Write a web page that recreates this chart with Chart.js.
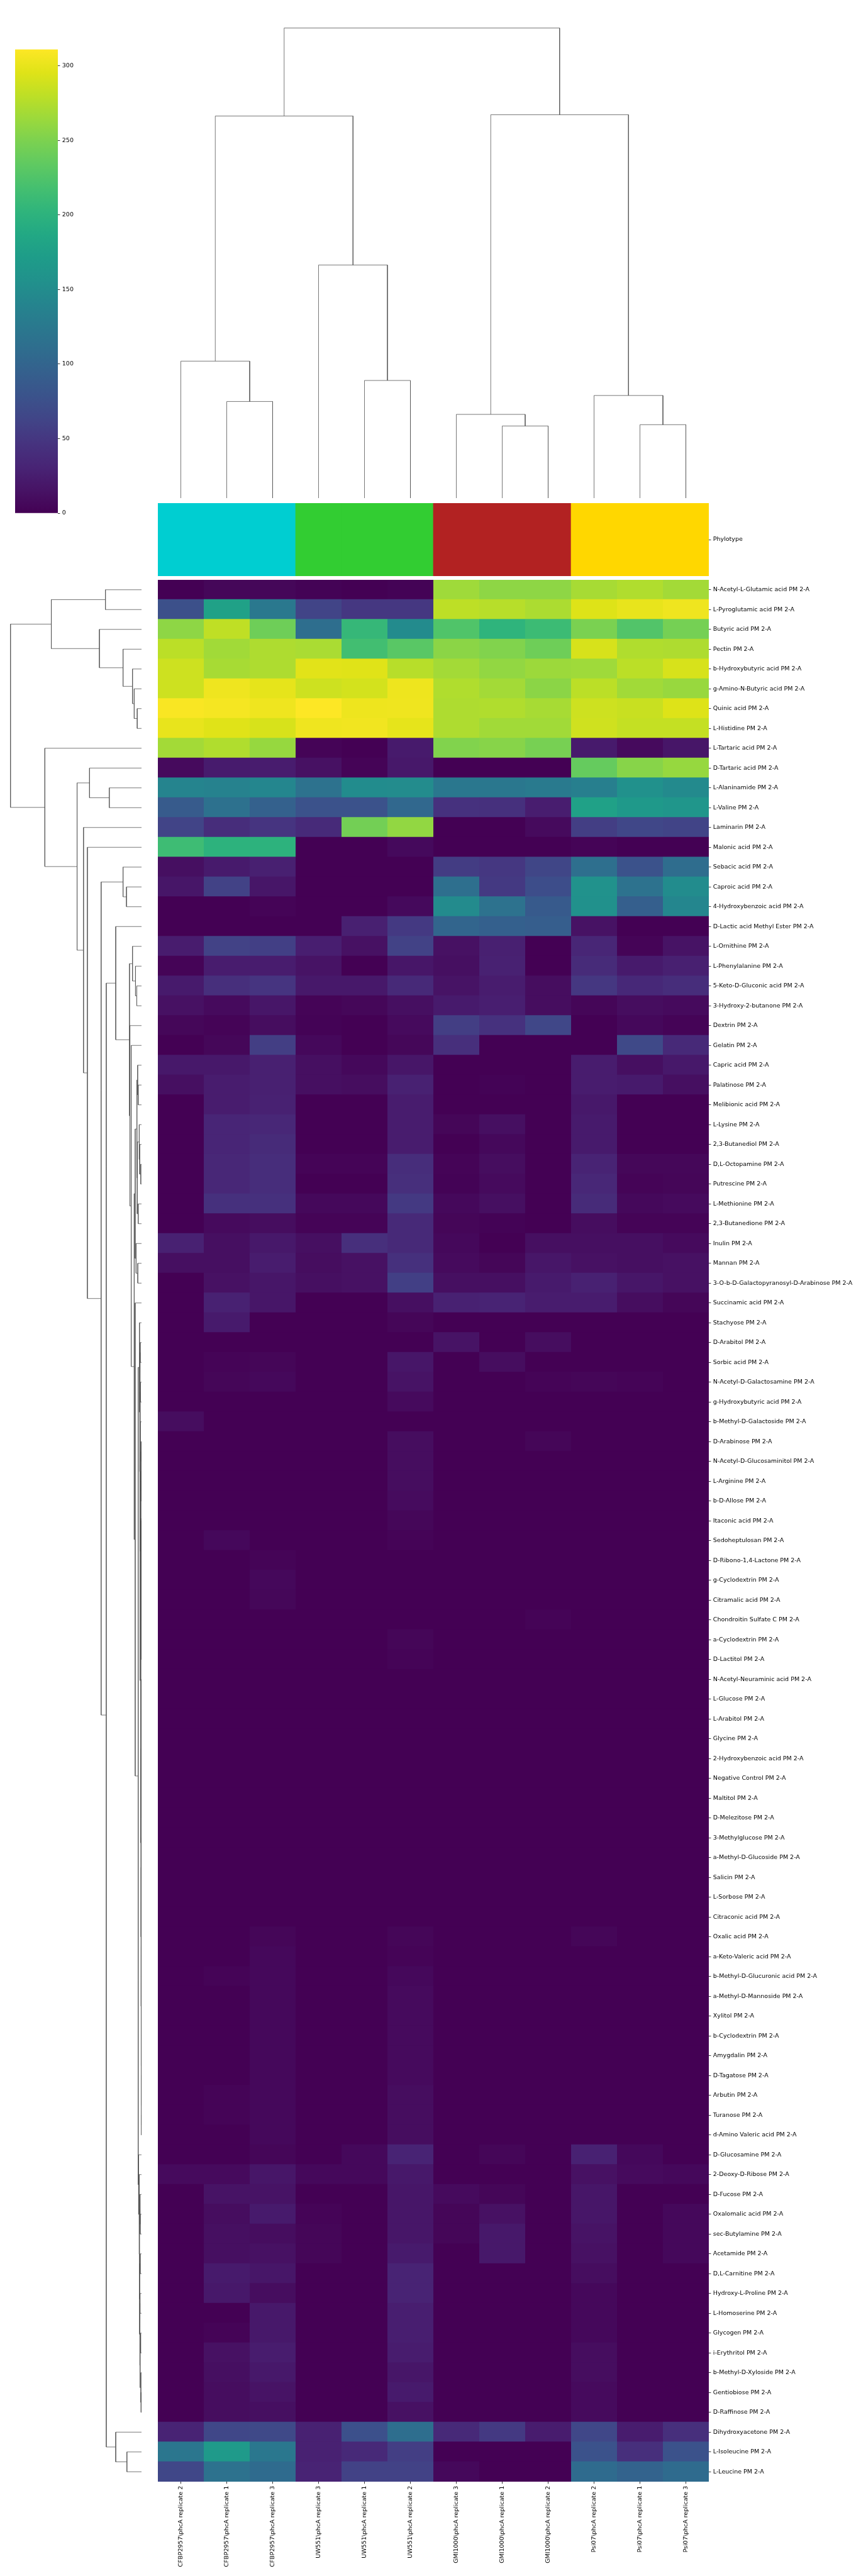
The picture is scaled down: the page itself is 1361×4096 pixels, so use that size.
<!DOCTYPE html>
<html>
<head>
<meta charset="utf-8">
<script src="https://cdn.jsdelivr.net/npm/chart.js@4.4.1/dist/chart.umd.min.js"></script>
<style>
  html, body { margin: 0; padding: 0; background: #fff; }
  #page { position: relative; width: 1361px; height: 4096px; overflow: hidden; }
  canvas { position: absolute; }
</style>
</head>
<body>
<div id="page">
  <canvas id="colorbar" width="118" height="758" style="left:24px;top:68px"></canvas>
  <canvas id="colTree" width="876" height="785" style="left:251px;top:7px"></canvas>
  <canvas id="phylo" width="1110" height="116" style="left:251px;top:800px"></canvas>
  <canvas id="rowTree" width="218" height="3024" style="left:7px;top:922px"></canvas>
  <canvas id="heat" width="1110" height="3174" style="left:251px;top:922px"></canvas>
</div>
<script>
// samples (columns, in dendrogram order)
const sampleNames = [
  "CFBP2957\\phcA replicate 2", "CFBP2957\\phcA replicate 1", "CFBP2957\\phcA replicate 3",
  "UW551\\phcA replicate 3", "UW551\\phcA replicate 1", "UW551\\phcA replicate 2",
  "GMI1000\\phcA replicate 3", "GMI1000\\phcA replicate 1", "GMI1000\\phcA replicate 2",
  "Psi07\\phcA replicate 2", "Psi07\\phcA replicate 1", "Psi07\\phcA replicate 3"
];
const phylotypeColors = ["#00ced1", "#00ced1", "#00ced1", "#32cd32", "#32cd32", "#32cd32",
  "#b22222", "#b22222", "#b22222", "#ffd700", "#ffd700", "#ffd700"];

// substrates (rows, in dendrogram order)
const substrates = [
  "N-Acetyl-L-Glutamic acid", "L-Pyroglutamic acid", "Butyric acid", "Pectin", "b-Hydroxybutyric acid",
  "g-Amino-N-Butyric acid", "Quinic acid", "L-Histidine", "L-Tartaric acid", "D-Tartaric acid",
  "L-Alaninamide", "L-Valine", "Laminarin", "Malonic acid", "Sebacic acid",
  "Caproic acid", "4-Hydroxybenzoic acid", "D-Lactic acid Methyl Ester", "L-Ornithine", "L-Phenylalanine",
  "5-Keto-D-Gluconic acid", "3-Hydroxy-2-butanone", "Dextrin", "Gelatin", "Capric acid",
  "Palatinose", "Melibionic acid", "L-Lysine", "2,3-Butanediol", "D,L-Octopamine",
  "Putrescine", "L-Methionine", "2,3-Butanedione", "Inulin", "Mannan",
  "3-O-b-D-Galactopyranosyl-D-Arabinose", "Succinamic acid", "Stachyose", "D-Arabitol", "Sorbic acid",
  "N-Acetyl-D-Galactosamine", "g-Hydroxybutyric acid", "b-Methyl-D-Galactoside", "D-Arabinose", "N-Acetyl-D-Glucosaminitol",
  "L-Arginine", "b-D-Allose", "Itaconic acid", "Sedoheptulosan", "D-Ribono-1,4-Lactone",
  "g-Cyclodextrin", "Citramalic acid", "Chondroitin Sulfate C", "a-Cyclodextrin", "D-Lactitol",
  "N-Acetyl-Neuraminic acid", "L-Glucose", "L-Arabitol", "Glycine", "2-Hydroxybenzoic acid",
  "Negative Control", "Maltitol", "D-Melezitose", "3-Methylglucose", "a-Methyl-D-Glucoside",
  "Salicin", "L-Sorbose", "Citraconic acid", "Oxalic acid", "a-Keto-Valeric acid",
  "b-Methyl-D-Glucuronic acid", "a-Methyl-D-Mannoside", "Xylitol", "b-Cyclodextrin", "Amygdalin",
  "D-Tagatose", "Arbutin", "Turanose", "d-Amino Valeric acid", "D-Glucosamine",
  "2-Deoxy-D-Ribose", "D-Fucose", "Oxalomalic acid", "sec-Butylamine", "Acetamide",
  "D,L-Carnitine", "Hydroxy-L-Proline", "L-Homoserine", "Glycogen", "i-Erythritol",
  "b-Methyl-D-Xyloside", "Gentiobiose", "D-Raffinose", "Dihydroxyacetone", "L-Isoleucine",
  "L-Leucine"
];
const rowLabels = substrates.map((s) => s + " PM 2-A");

// values per sample, one per substrate (rows 1-10, 11-20, ...)
const cfbp2957_r2 = [
  0, 75, 258, 279, 287, 287, 309, 300, 268, 8,
  140, 88, 62, 213, 12, 18, 0, 0, 24, 3,
  22, 14, 5, 0, 20, 12, 0, 0, 0, 0,
  0, 0, 0, 28, 12, 0, 0, 0, 0, 0,
  0, 0, 10, 0, 0, 0, 0, 0, 0, 0,
  0, 0, 0, 0, 0, 0, 0, 0, 0, 0,
  0, 0, 0, 0, 0, 0, 0, 0, 0, 0,
  0, 0, 0, 0, 0, 0, 0, 0, 0, 0,
  8, 0, 0, 0, 0, 0, 0, 0, 0, 0,
  0, 0, 0, 30, 122, 65];
const cfbp2957_r1 = [
  5, 178, 281, 267, 270, 304, 307, 296, 274, 23,
  137, 115, 40, 200, 22, 60, 0, 0, 60, 24,
  42, 8, 3, 5, 20, 24, 24, 32, 32, 34,
  34, 44, 8, 12, 12, 14, 28, 22, 0, 3,
  4, 0, 0, 0, 0, 0, 0, 0, 6, 0,
  0, 0, 0, 0, 0, 0, 0, 0, 0, 0,
  0, 0, 0, 0, 0, 0, 0, 0, 0, 0,
  3, 0, 0, 0, 0, 0, 3, 3, 0, 0,
  8, 16, 10, 12, 12, 22, 20, 0, 3, 14,
  12, 10, 10, 65, 168, 116];
const cfbp2957_r3 = [
  5, 125, 242, 273, 273, 299, 304, 292, 262, 24,
  142, 96, 48, 200, 27, 18, 3, 0, 58, 24,
  48, 18, 10, 57, 27, 27, 28, 34, 38, 40,
  40, 44, 10, 20, 24, 18, 18, 0, 0, 4,
  6, 0, 0, 0, 0, 0, 0, 0, 0, 3,
  6, 5, 0, 0, 0, 0, 0, 0, 0, 0,
  0, 0, 0, 0, 0, 0, 0, 0, 4, 6,
  6, 6, 6, 6, 6, 6, 6, 6, 6, 4,
  18, 16, 22, 10, 14, 18, 10, 20, 20, 24,
  20, 16, 12, 68, 123, 108];
const uw551_r3 = [
  2, 62, 112, 271, 297, 287, 311, 304, 3, 14,
  116, 78, 37, 0, 0, 0, 0, 0, 26, 16,
  20, 3, 2, 6, 12, 12, 0, 0, 0, 3,
  0, 6, 3, 12, 10, 12, 0, 0, 0, 0,
  0, 0, 0, 0, 0, 0, 0, 0, 0, 0,
  0, 0, 0, 0, 0, 0, 0, 0, 0, 0,
  0, 0, 0, 0, 0, 0, 0, 0, 0, 0,
  0, 0, 0, 0, 0, 0, 0, 0, 0, 0,
  6, 0, 3, 4, 4, 0, 0, 0, 0, 0,
  0, 0, 0, 28, 28, 30];
const uw551_r1 = [
  0, 50, 207, 216, 296, 290, 303, 305, 0, 3,
  150, 78, 245, 0, 0, 0, 0, 27, 14, 0,
  20, 5, 0, 0, 6, 10, 0, 0, 0, 3,
  0, 6, 3, 42, 14, 14, 0, 0, 0, 0,
  0, 0, 0, 0, 0, 0, 0, 0, 0, 0,
  0, 0, 0, 0, 0, 0, 0, 0, 0, 0,
  0, 0, 0, 0, 0, 0, 0, 0, 0, 0,
  0, 0, 0, 0, 0, 0, 0, 0, 0, 6,
  6, 0, 0, 0, 0, 0, 0, 0, 0, 0,
  0, 0, 0, 76, 36, 60];
const uw551_r2 = [
  2, 50, 148, 230, 277, 303, 304, 299, 22, 20,
  149, 104, 260, 7, 0, 0, 7, 52, 60, 18,
  36, 12, 8, 5, 18, 28, 24, 24, 24, 40,
  42, 52, 36, 36, 44, 58, 12, 4, 0, 18,
  16, 8, 0, 10, 10, 10, 9, 5, 3, 0,
  0, 0, 0, 4, 3, 0, 0, 0, 0, 0,
  0, 0, 0, 0, 0, 0, 0, 0, 4, 3,
  6, 8, 8, 8, 8, 8, 10, 10, 10, 30,
  20, 18, 18, 18, 22, 30, 30, 26, 26, 24,
  18, 22, 14, 112, 57, 60];
const gmi1000_r3 = [
  266, 280, 225, 257, 268, 274, 273, 273, 252, 0,
  123, 45, 0, 0, 55, 113, 148, 100, 14, 12,
  16, 22, 57, 42, 0, 0, 0, 4, 0, 3,
  2, 6, 4, 6, 8, 12, 28, 0, 16, 0,
  0, 0, 0, 0, 0, 0, 0, 0, 0, 0,
  0, 0, 0, 0, 0, 0, 0, 0, 0, 0,
  0, 0, 0, 0, 0, 0, 0, 0, 0, 0,
  0, 0, 0, 0, 0, 0, 0, 0, 0, 0,
  0, 8, 4, 4, 0, 0, 0, 0, 0, 0,
  0, 0, 0, 36, 0, 6];
const gmi1000_r1 = [
  258, 277, 202, 252, 260, 268, 274, 267, 255, 0,
  123, 44, 0, 0, 50, 52, 116, 95, 27, 28,
  24, 26, 45, 0, 0, 2, 0, 12, 6, 10,
  8, 12, 2, 0, 4, 12, 30, 0, 0, 10,
  0, 0, 0, 0, 0, 0, 0, 0, 0, 0,
  0, 0, 0, 0, 0, 0, 0, 0, 0, 0,
  0, 0, 0, 0, 0, 0, 0, 0, 0, 0,
  0, 0, 0, 0, 0, 0, 0, 0, 0, 4,
  0, 4, 14, 20, 20, 0, 0, 0, 0, 0,
  0, 0, 0, 52, 0, 0];
const gmi1000_r2 = [
  258, 272, 212, 242, 265, 257, 270, 267, 247, 0,
  127, 25, 8, 0, 64, 72, 87, 92, 0, 0,
  10, 10, 65, 0, 0, 0, 0, 0, 0, 0,
  0, 0, 0, 12, 18, 22, 24, 0, 10, 0,
  3, 0, 0, 4, 0, 0, 0, 0, 0, 0,
  0, 0, 3, 0, 0, 0, 0, 0, 0, 0,
  0, 0, 0, 0, 0, 0, 0, 0, 0, 0,
  0, 0, 0, 0, 0, 0, 0, 0, 0, 0,
  0, 0, 0, 0, 0, 0, 0, 0, 0, 0,
  0, 0, 0, 24, 0, 0];
const psi07_r2 = [
  270, 295, 249, 292, 266, 279, 287, 288, 22, 237,
  133, 178, 57, 3, 113, 157, 155, 15, 33, 38,
  50, 4, 0, 0, 24, 24, 20, 22, 22, 30,
  34, 38, 10, 12, 14, 28, 24, 0, 0, 0,
  4, 0, 0, 0, 0, 0, 0, 0, 0, 0,
  0, 0, 0, 0, 0, 0, 0, 0, 0, 0,
  0, 0, 0, 0, 0, 0, 0, 0, 4, 0,
  0, 0, 0, 0, 0, 0, 0, 0, 0, 28,
  14, 18, 18, 16, 14, 10, 6, 6, 6, 10,
  10, 8, 8, 65, 78, 108];
const psi07_r1 = [
  274, 300, 226, 274, 279, 267, 285, 283, 8, 255,
  155, 167, 65, 0, 78, 116, 93, 0, 3, 22,
  35, 10, 6, 68, 12, 22, 0, 0, 0, 5,
  3, 6, 3, 12, 12, 18, 10, 0, 0, 0,
  3, 0, 0, 0, 0, 0, 0, 0, 0, 0,
  0, 0, 0, 0, 0, 0, 0, 0, 0, 0,
  0, 0, 0, 0, 0, 0, 0, 0, 0, 0,
  0, 0, 0, 0, 0, 0, 0, 0, 0, 6,
  8, 0, 0, 0, 0, 0, 0, 0, 0, 0,
  0, 0, 0, 24, 42, 98];
const psi07_r3 = [
  268, 304, 246, 273, 292, 263, 295, 283, 18, 262,
  147, 162, 62, 0, 110, 150, 142, 0, 16, 27,
  40, 8, 3, 36, 20, 12, 0, 0, 0, 5,
  4, 8, 3, 8, 14, 14, 4, 0, 0, 0,
  0, 0, 0, 0, 0, 0, 0, 0, 0, 0,
  0, 0, 0, 0, 0, 0, 0, 0, 0, 0,
  0, 0, 0, 0, 0, 0, 0, 0, 0, 0,
  0, 0, 0, 0, 0, 0, 0, 0, 0, 0,
  6, 0, 6, 6, 6, 0, 0, 0, 0, 0,
  0, 0, 0, 42, 78, 108];

const sampleValues = [cfbp2957_r2, cfbp2957_r1, cfbp2957_r3, uw551_r3, uw551_r1, uw551_r2,
  gmi1000_r3, gmi1000_r1, gmi1000_r2, psi07_r2, psi07_r1, psi07_r3];

const cbarTicks = [0, 50, 100, 150, 200, 250, 300];

// linkage trees: [height, left, right], leaves are 1-based positions
const colTree = [109.5,
  [89.0, [31.9, 1, [22.5, 2, 3]], [54.3, 4, [27.4, 5, 6]]],
  [89.3, [19.5, 7, [16.8, 8, 9]], [23.9, 10, [17.1, 11, 12]]]];

const treeTop = [210, [84, 1, 2], [98, 3, [43, 4, [21, 5, [17, 6, [10, 7, 8]]]]]];
const treeM = [14.7, [10.7, [9, 25, [7.7, 26, 27]], [10, [5.3, 28, [4.3, 29, [1.7, 30, 31]]], [7.7, 32, 33]]],
  [12.7, 34, [8.7, 35, 36]]];
const treeU = [1.5, [1.2, [0.9, 44, 45], [0.8, 46, 47]],
  [1.3, [1.0, 48, 49], [1.1, [0.7, 50, 51], [0.9, [0.6, 52, 53], [0.5, 54, 55]]]]];
const treeV = [1.2,
  [0.9, [0.6, [0.4, 56, 57], [0.3, 58, 59]], [0.5, [0.3, 60, 61], [0.2, 62, 63]]],
  [1.0, [0.7, [0.5, 64, 65], [0.4, 66, 67]],
    [0.8, [0.6, [0.5, 68, 69], [0.4, 70, 71]],
      [0.6, [0.5, [0.4, 72, 73], [0.4, 74, 75]], [0.45, [0.3, 76, 77], [0.35, 78, 79]]]]]];
const treeP1 = [4.7, 38, [4, [3, 39, 40], [3.5, [2.5, 41, 42], [3, 43, [1.7, treeU, treeV]]]]];
const treeP2 = [6.7, 80, [5.5, 81, [5, [3.7, 82, [3, 83, 84]],
  [4.5, [3, 85, 86], [4, [3.5, 87, 88], [3.3, [2, 89, 90], [1.5, 91, [1, 92, 93]]]]]]]];
const treeN = [14.7, 37, [7.7, treeP1, treeP2]];
const treeI = [28, [21, 19, [14, 20, [11, 21, 22]]], [27, 23, [24, 24, [17, treeM, treeN]]]];
const treeG = [82, [60, 18, treeI], [60, 94, [34, 95, 96]]];
const treeC = [150, [121, 10, [75, 11, 12]],
  [135, 13, [126, 14, [94, [43, 15, [35, 16, 17]], treeG]]]];
const rowTree = [305, treeTop, [225, 9, treeC]];

// viridis
const viridisStops = [
  [0.00, "#440154"], [0.05, "#471365"], [0.10, "#482475"], [0.15, "#46337f"], [0.20, "#414487"],
  [0.25, "#3b528b"], [0.30, "#355f8d"], [0.35, "#2f6c8e"], [0.40, "#2a788e"], [0.45, "#25848e"],
  [0.50, "#21918c"], [0.55, "#1e9c89"], [0.60, "#22a884"], [0.65, "#2fb47c"], [0.70, "#44bf70"],
  [0.75, "#5ec962"], [0.80, "#7ad151"], [0.85, "#9bd93c"], [0.90, "#bddf26"], [0.95, "#dfe318"],
  [1.00, "#fde725"]
];
function hexRgb(h) {
  return [parseInt(h.slice(1, 3), 16), parseInt(h.slice(3, 5), 16), parseInt(h.slice(5, 7), 16)];
}
function viridis(t) {
  t = Math.min(1, Math.max(0, t));
  for (let i = 1; i < viridisStops.length; i++) {
    const [t1, c1] = viridisStops[i];
    if (t <= t1) {
      const [t0, c0] = viridisStops[i - 1];
      const f = (t - t0) / (t1 - t0);
      const a = hexRgb(c0), b = hexRgb(c1);
      return `rgb(${a.map((v, k) => Math.round(v + (b[k] - v) * f)).join(",")})`;
    }
  }
  return viridisStops[viridisStops.length - 1][1];
}

const vmax = Math.max(...sampleValues.flat());

Chart.defaults.font.family = "'DejaVu Sans', sans-serif";
Chart.defaults.font.size = 9.5;
Chart.defaults.color = "#000";
Chart.defaults.animation = false;
Chart.defaults.responsive = false;
Chart.defaults.devicePixelRatio = 1;
Chart.defaults.plugins.legend.display = false;
Chart.defaults.plugins.tooltip.enabled = false;
Chart.defaults.layout.autoPadding = false;

const lineColor = "#555";
const tickGrid = { drawOnChartArea: false, tickLength: 3.4, tickColor: "#000", tickWidth: 0.8, offset: false };

function fixSize(w, h) {
  return (s) => {
    if (w !== undefined) s.width = w;
    if (h !== undefined) s.height = h;
    s.paddingTop = s.paddingBottom = s.paddingLeft = s.paddingRight = 0;
  };
}

// walk a linkage tree and collect the U-shaped links
function walk(node, links) {
  if (typeof node === "number") return { pos: node - 0.5, h: 0 };
  const a = walk(node[1], links);
  const b = walk(node[2], links);
  links.push({ h: node[0], a, b });
  return { pos: (a.pos + b.pos) / 2, h: node[0] };
}

function linkDataset(points) {
  return { data: points, showLine: true, borderColor: lineColor, borderWidth: 0.8, pointRadius: 0, tension: 0, fill: false };
}

// column dendrogram
const colLinks = [];
walk(colTree, colLinks);
new Chart(document.getElementById("colTree"), {
  type: "scatter",
  data: {
    datasets: colLinks.map((l) => linkDataset([
      { x: l.a.pos, y: l.a.h }, { x: l.a.pos, y: l.h }, { x: l.b.pos, y: l.h }, { x: l.b.pos, y: l.b.h }
    ]))
  },
  options: {
    layout: { padding: 0 },
    scales: {
      x: { type: "linear", display: false, min: 0, max: sampleNames.length },
      y: { type: "linear", display: false, min: 0, max: 115 }
    }
  }
});

// row dendrogram
const rowLinks = [];
walk(rowTree, rowLinks);
new Chart(document.getElementById("rowTree"), {
  type: "scatter",
  data: {
    datasets: rowLinks.map((l) => linkDataset([
      { x: l.a.h, y: l.a.pos }, { x: l.h, y: l.a.pos }, { x: l.h, y: l.b.pos }, { x: l.b.h, y: l.b.pos }
    ]))
  },
  options: {
    layout: { padding: 0 },
    scales: {
      x: { type: "linear", display: false, reverse: true, min: 0, max: 218 / 0.683 },
      y: { type: "linear", display: false, reverse: true, min: 0, max: substrates.length }
    }
  }
});

// phylotype colour strip
new Chart(document.getElementById("phylo"), {
  type: "bar",
  data: {
    labels: sampleNames,
    datasets: [{ data: sampleNames.map(() => 1), backgroundColor: phylotypeColors, barPercentage: 1, categoryPercentage: 1, borderWidth: 0 }]
  },
  options: {
    layout: { padding: 0 },
    scales: {
      x: { display: false },
      y: {
        type: "linear", position: "right", min: 0, max: 1,
        afterBuildTicks: (s) => { s.ticks = [{ value: 0.5 }]; },
        ticks: { callback: () => "Phylotype", padding: 3.4 },
        grid: tickGrid, border: { display: false },
        afterFit: fixSize(234, undefined)
      }
    }
  }
});

// heatmap
new Chart(document.getElementById("heat"), {
  type: "bar",
  data: {
    labels: rowLabels,
    datasets: sampleValues.map((vals) => ({
      data: vals.map(() => 1),
      backgroundColor: vals.map((v) => viridis(v / vmax)),
      barPercentage: 1.04, categoryPercentage: 1, borderWidth: 0
    }))
  },
  options: {
    indexAxis: "y",
    layout: { padding: 0 },
    scales: {
      x: {
        type: "linear", position: "bottom", stacked: true, min: 0, max: sampleNames.length,
        afterBuildTicks: (s) => { s.ticks = sampleNames.map((_, j) => ({ value: j + 0.5 })); },
        ticks: { callback: (v, i) => sampleNames[i], minRotation: 90, maxRotation: 90, autoSkip: false, padding: 3.4 },
        grid: tickGrid, border: { display: false },
        afterFit: fixSize(undefined, 150)
      },
      y: {
        type: "category", position: "right", stacked: true,
        ticks: { autoSkip: false, padding: 3.4 },
        grid: tickGrid, border: { display: false },
        afterFit: fixSize(234, undefined)
      }
    }
  }
});

// colour bar
new Chart(document.getElementById("colorbar"), {
  type: "bar",
  data: {
    labels: ["value"],
    datasets: [{
      data: [vmax], borderWidth: 0, barPercentage: 1, categoryPercentage: 1,
      backgroundColor: (c) => {
        const { ctx, chartArea } = c.chart;
        if (!chartArea) return viridisStops[0][1];
        const g = ctx.createLinearGradient(0, chartArea.bottom, 0, chartArea.top);
        viridisStops.forEach(([t, col]) => g.addColorStop(t, col));
        return g;
      }
    }]
  },
  options: {
    layout: { padding: { top: 10.5, bottom: 10, left: 0, right: 0 } },
    scales: {
      x: { display: false },
      y: {
        type: "linear", position: "right", min: 0, max: vmax,
        afterBuildTicks: (s) => { s.ticks = cbarTicks.map((v) => ({ value: v })); },
        ticks: { padding: 3.4 },
        grid: tickGrid, border: { display: false },
        afterFit: fixSize(50, undefined)
      }
    }
  }
});
</script>
</body>
</html>
